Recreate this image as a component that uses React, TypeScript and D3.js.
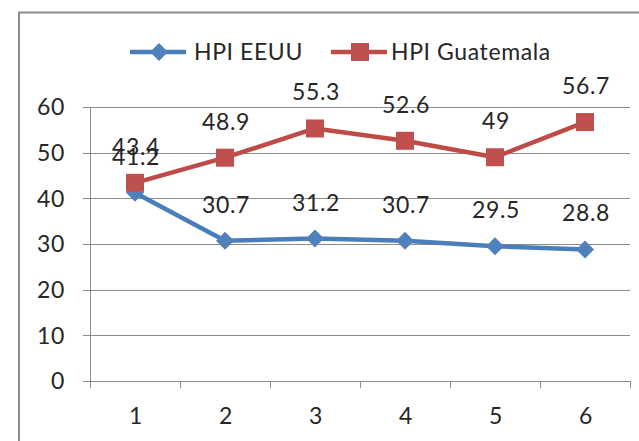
import { useEffect, useRef } from "react";
import * as d3 from "d3";

const categories = ["1", "2", "3", "4", "5", "6"];
const hpiEEUU = [41.2, 30.7, 31.2, 30.7, 29.5, 28.8];
const hpiGuatemala = [43.4, 48.9, 55.3, 52.6, 49, 56.7];
const yTicks = [0, 10, 20, 30, 40, 50, 60];

const seriesList = [
  { name: "HPI EEUU", values: hpiEEUU, line: "#4A7EBB", fill: "#4F81BD", marker: "diamond" },
  { name: "HPI Guatemala", values: hpiGuatemala, line: "#BE4B48", fill: "#C0504D", marker: "square" },
];

const FONT = "Lato, 'Noto Sans', sans-serif";
const FONT_SIZE = 23;
const SPACING = 0.6;
const TEXT = "#262626";
const GRID = "#8c8c8c";

function App() {
  const svgRef = useRef<SVGSVGElement | null>(null);

  useEffect(() => {
    const svgElement = svgRef.current;
    if (!svgElement) return;
    const width = 639;
    const height = 441;
    const margin = { top: 107, right: 9, bottom: 60, left: 90 };

    const svg = d3.select(svgElement);
    svg.selectAll("*").remove();
    svg.attr("width", width).attr("height", height);

    svg.append("rect").attr("width", width).attr("height", height).attr("fill", "#fff");

    // outer chart border
    svg
      .append("rect")
      .attr("x", 19)
      .attr("y", 12.5)
      .attr("width", width)
      .attr("height", height)
      .attr("fill", "none")
      .attr("stroke", GRID)
      .attr("stroke-width", 2);

    const x = d3
      .scaleBand()
      .domain(categories)
      .range([margin.left, width - margin.right]);

    const y = d3
      .scaleLinear()
      .domain([0, 60])
      .range([height - margin.bottom, margin.top]);

    const cx = (c: string) => (x(c) || 0) + x.bandwidth() / 2;

    const styleText = (sel: any) =>
      sel
        .attr("font-family", FONT)
        .attr("font-size", FONT_SIZE)
        .attr("letter-spacing", SPACING)
        .attr("fill", TEXT);

    // gridlines + y ticks
    const grid = svg.append("g");
    grid
      .selectAll("line")
      .data(yTicks)
      .enter()
      .append("line")
      .attr("x1", margin.left - 7)
      .attr("x2", width - margin.right)
      .attr("y1", (d) => Math.round(y(d)) + 0.5)
      .attr("y2", (d) => Math.round(y(d)) + 0.5)
      .attr("stroke", GRID)
      .attr("stroke-width", 1);

    grid
      .selectAll("text")
      .data(yTicks)
      .enter()
      .append("text")
      .attr("x", 65)
      .attr("y", (d) => y(d))
      .attr("dy", "0.36em")
      .attr("text-anchor", "end")
      .call(styleText)
      .text((d) => d);

    // y axis line
    svg
      .append("line")
      .attr("x1", margin.left + 0.5)
      .attr("x2", margin.left + 0.5)
      .attr("y1", y(60))
      .attr("y2", y(0))
      .attr("stroke", GRID);

    // x ticks at band edges
    const edges = categories.map((c) => x(c) || 0).concat([width - margin.right]);
    svg
      .append("g")
      .selectAll("line")
      .data(edges)
      .enter()
      .append("line")
      .attr("x1", (d) => Math.round(d) + 0.5)
      .attr("x2", (d) => Math.round(d) + 0.5)
      .attr("y1", y(0))
      .attr("y2", y(0) + 7)
      .attr("stroke", GRID);

    svg
      .append("g")
      .selectAll("text")
      .data(categories)
      .enter()
      .append("text")
      .attr("x", (d) => cx(d) + 1)
      .attr("y", 424)
      .attr("text-anchor", "middle")
      .call(styleText)
      .text((d) => d);

    const line = d3
      .line<number>()
      .x((_, i) => cx(categories[i]))
      .y((d) => y(d));

    const drawMarker = (g: any, kind: string, px: number, py: number, fill: string) => {
      if (kind === "diamond") {
        g.append("path")
          .attr("d", `M${px},${py - 9}L${px + 9},${py}L${px},${py + 9}L${px - 9},${py}Z`)
          .attr("fill", fill);
      } else {
        g.append("rect")
          .attr("x", px - 9)
          .attr("y", py - 9)
          .attr("width", 18)
          .attr("height", 18)
          .attr("fill", fill);
      }
    };

    seriesList.forEach((s) => {
      const g = svg.append("g");
      g.append("path")
        .datum(s.values)
        .attr("d", line)
        .attr("fill", "none")
        .attr("stroke", s.line)
        .attr("stroke-width", 4.5)
        .attr("stroke-linejoin", "round");
      s.values.forEach((v, i) => drawMarker(g, s.marker, cx(categories[i]), y(v), s.fill));
    });

    seriesList.forEach((s) => {
      svg
        .append("g")
        .selectAll("text")
        .data(s.values)
        .enter()
        .append("text")
        .attr("x", (_, i) => cx(categories[i]) + 1)
        .attr("y", (d) => y(d) - 28)
        .attr("text-anchor", "middle")
        .call(styleText)
        .text((d) => d);
    });

    // legend
    const legendItems = [
      { s: seriesList[0], x0: 130, tx: 194 },
      { s: seriesList[1], x0: 331, tx: 391 },
    ];
    const legend = svg.append("g");
    legendItems.forEach(({ s, x0, tx }) => {
      legend
        .append("line")
        .attr("x1", x0)
        .attr("x2", x0 + 56)
        .attr("y1", 52)
        .attr("y2", 52)
        .attr("stroke", s.line)
        .attr("stroke-width", 4.5);
      drawMarker(legend, s.marker, x0 + 29, 52, s.fill);
      legend
        .append("text")
        .attr("x", tx)
        .attr("y", 52)
        .attr("dy", "0.36em")
        .call(styleText)
        .text(s.name);
    });
  }, []);

  return <svg ref={svgRef} style={{ position: "absolute", left: 0, top: 0 }} role="img" aria-label="HPI line chart" />;
}

export default App;
